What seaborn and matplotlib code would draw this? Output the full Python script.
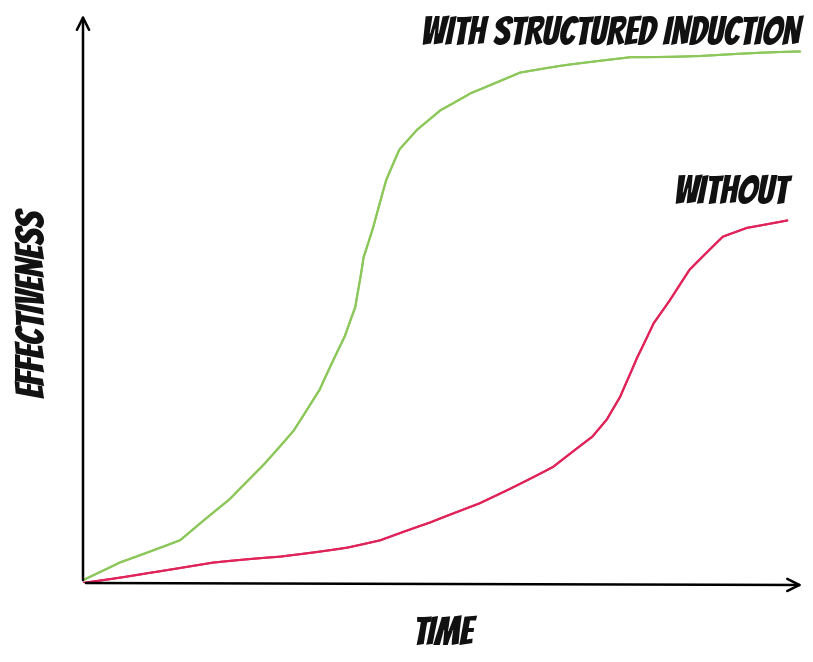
import numpy as np
import matplotlib
matplotlib.use("Agg")
import matplotlib.pyplot as plt
from matplotlib import font_manager as fm
import seaborn as sns
import pandas as pd

# values (time 0-100, effectiveness 0-100)
with_time = [0, 5.1, 13.5, 20.4, 25.0, 29.2, 32.9, 36.4, 37.8, 38.9, 40.3, 42.2,
             44.0, 46.4, 49.6, 53.8, 60.7, 66.7, 76.0, 85.7, 99.6]
with_eff = [0.5, 3.7, 7.5, 14.6, 20.7, 26.8, 33.9, 43.2, 48.4, 57.2, 62.5, 70.7,
            76.0, 79.5, 83.0, 86.0, 89.5, 90.7, 92.3, 92.5, 93.2]

without_time = [0, 8.9, 18.1, 27.4, 36.7, 41.3, 48.2, 55.1, 65.3, 70.8, 72.8, 74.6,
                76.9, 79.2, 81.5, 84.3, 88.9, 92.2, 97.8]
without_eff = [0, 1.8, 3.5, 4.6, 6.3, 7.5, 10.5, 14.0, 20.4, 25.6, 28.6, 32.6,
               39.6, 45.6, 49.6, 54.9, 60.7, 62.3, 63.7]

labels = ["WITH STRUCTURED INDUCTION", "WITHOUT"]
colors = ["#8cc75a", "#e0245a"]

df = pd.concat([
    pd.DataFrame({"time": with_time, "eff": with_eff, "series": labels[0]}),
    pd.DataFrame({"time": without_time, "eff": without_eff, "series": labels[1]}),
])

sns.set_theme(style="white")

# comic style font if there, otherwise a condensed bold oblique
try:
    fm.findfont("Bangers", fallback_to_default=False)
    txt = dict(family=["Bangers", "DejaVu Sans"], fontsize=28.7, color="#111111")
except ValueError:
    txt = dict(family=["DejaVu Sans"], fontstretch="condensed", fontweight="bold",
               style="oblique", fontsize=19, color="#111111")

W, H = 813, 662
fig = plt.figure(figsize=(W / 100, H / 100), dpi=100)
# origin at pixel (83, 583); 7.2 px per time unit, 5.7 px per effectiveness unit
ax = fig.add_axes([83 / W, (H - 583) / H, 730 / W, 583 / H])
ax.set_xlim(0, 730 / 7.2)
ax.set_ylim(0, 583 / 5.7)

# draw each curve twice with a little jitter for the hand-drawn look
for seed in (1, 2):
    np.random.seed(seed)
    sns.lineplot(data=df, x="time", y="eff", hue="series", palette=colors,
                 hue_order=labels, ax=ax, legend=False, lw=1.5, sort=False,
                 estimator=None)
for ln in ax.lines:
    ln.set_sketch_params(0.6, 220, 2)
    ln.set_solid_joinstyle("round")

for s in ax.spines.values():
    s.set_visible(False)
ax.set_xticks([])
ax.set_yticks([])
ax.set_xlabel("")
ax.set_ylabel("")

# hand drawn axes with open arrow heads
arr = dict(arrowstyle="->", color="black", lw=1.8, mutation_scale=22)
ax.annotate("", xy=(0, 1 - 15 / 583 + 0.005), xytext=(0, 0),
            xycoords="axes fraction", arrowprops=arr, annotation_clip=False)
ax.annotate("", xy=(722 / 730, -2 / 583), xytext=(0, 0),
            xycoords="axes fraction", arrowprops=arr, annotation_clip=False)

fig.text(800 / W, 1 - 31 / H, labels[0], ha="right", va="center", **txt)
fig.text(788 / W, 1 - 189 / H, labels[1], ha="right", va="center", **txt)
fig.text(443 / W, 1 - 630 / H, "TIME", ha="center", va="center", **txt)
fig.text(30 / W, 1 - 304 / H, "EFFECTIVENESS", ha="center", va="center",
         rotation=90, **txt)

fig.savefig("out.png", dpi=100)
